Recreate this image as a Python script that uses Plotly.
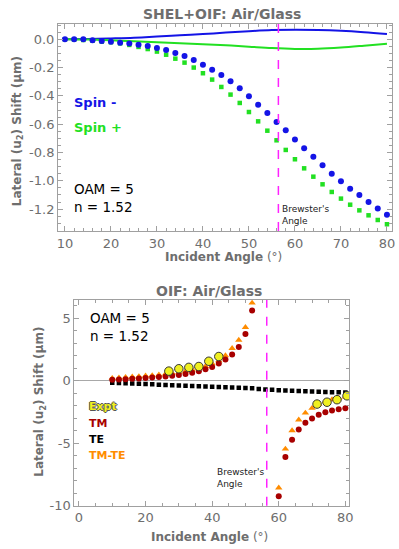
import plotly.graph_objects as go

# --- top panel: SHEL+OIF ---
angle_top = list(range(10, 81, 2))
spin_minus = [0.0, 0.0, 0.0, -0.007, -0.012, -0.017, -0.024, -0.030, -0.038, -0.047,
              -0.061, -0.076, -0.097, -0.118, -0.146, -0.180, -0.215, -0.252, -0.297,
              -0.346, -0.403, -0.462, -0.521, -0.584, -0.643, -0.709, -0.770, -0.830,
              -0.890, -0.950, -1.004, -1.056, -1.100, -1.150, -1.195, -1.240]
spin_plus = [0.0, -0.002, -0.005, -0.010, -0.017, -0.021, -0.029, -0.040, -0.054, -0.069,
             -0.087, -0.109, -0.137, -0.165, -0.200, -0.240, -0.285, -0.337, -0.391,
             -0.450, -0.514, -0.580, -0.646, -0.714, -0.782, -0.848, -0.912, -0.971,
             -1.025, -1.079, -1.126, -1.169, -1.209, -1.244, -1.277, -1.307]
angle_line = [10, 15, 20, 25, 30, 35, 40, 45, 50, 55, 60, 65, 70, 75, 80]
shel_minus = [0.0, 0.002, 0.006, 0.011, 0.019, 0.028, 0.037, 0.047, 0.057, 0.065,
              0.068, 0.066, 0.060, 0.050, 0.037]
shel_plus = [0.0, -0.002, -0.007, -0.014, -0.021, -0.028, -0.035, -0.042, -0.052,
             -0.062, -0.068, -0.067, -0.058, -0.045, -0.031]

# --- bottom panel: OIF ---
angle_tm = list(range(10, 53, 2)) + list(range(60, 81, 2))
tm = [0.08, 0.11, 0.13, 0.16, 0.19, 0.22, 0.26, 0.30, 0.35, 0.40, 0.46, 0.54, 0.65,
      0.77, 0.93, 1.12, 1.39, 1.71, 2.11, 2.72, 3.75, 5.63,
      -9.25, -6.10, -4.72, -3.89, -3.36, -3.01, -2.72, -2.51, -2.37, -2.27, -2.19]
tm_te = [0.21, 0.24, 0.29, 0.32, 0.35, 0.40, 0.43, 0.48, 0.56, 0.61, 0.67, 0.77, 0.91,
         1.01, 1.17, 1.39, 1.63, 2.03, 2.61, 3.27, 4.29, 6.24,
         -8.57, -5.45, -3.98, -3.12, -2.57, -2.19, -1.87, -1.66, -1.50, -1.38, -1.29]
angle_te = list(range(10, 81, 2))
te = [-0.16, -0.18, -0.20, -0.22, -0.24, -0.26, -0.28, -0.31, -0.33, -0.35, -0.37,
      -0.39, -0.41, -0.43, -0.45, -0.47, -0.50, -0.52, -0.54, -0.56, -0.58, -0.60,
      -0.66, -0.69, -0.72, -0.75, -0.77, -0.80, -0.82, -0.84, -0.86, -0.88, -0.90,
      -0.91, -0.92, -0.93]
angle_expt = [27, 30, 33, 36, 39, 42, 71.5, 74.5, 77.5, 80.5]
expt = [0.78, 0.97, 1.08, 1.15, 1.57, 1.95, -1.86, -1.71, -1.51, -1.20]

brewster = 56.4

GRAY = "#6e6e6e"
FRAME = "#a0a0a0"
FONT = "DejaVu Sans"

fig = go.Figure()

fig.add_trace(go.Scatter(x=angle_line, y=shel_minus, mode="lines", line=dict(color="#1414e6", width=2, shape="spline"),
                         xaxis="x", yaxis="y", showlegend=False))
fig.add_trace(go.Scatter(x=angle_line, y=shel_plus, mode="lines", line=dict(color="#22e022", width=2, shape="spline"),
                         xaxis="x", yaxis="y", showlegend=False))
fig.add_trace(go.Scatter(x=angle_top, y=spin_plus, mode="markers",
                         marker=dict(symbol="square", size=4.5, color="#22e022"),
                         xaxis="x", yaxis="y", showlegend=False))
fig.add_trace(go.Scatter(x=angle_top, y=spin_minus, mode="markers",
                         marker=dict(symbol="circle", size=6, color="#1414e6"),
                         xaxis="x", yaxis="y", showlegend=False))

fig.add_trace(go.Scatter(x=angle_te, y=te, mode="markers",
                         marker=dict(symbol="square", size=4.5, color="black"),
                         xaxis="x2", yaxis="y2", showlegend=False))
fig.add_trace(go.Scatter(x=angle_tm, y=tm_te, mode="markers",
                         marker=dict(symbol="triangle-up", size=6.5, color="#ff8c00"),
                         xaxis="x2", yaxis="y2", showlegend=False))
fig.add_trace(go.Scatter(x=angle_tm, y=tm, mode="markers",
                         marker=dict(symbol="circle", size=6, color="#a80000"),
                         xaxis="x2", yaxis="y2", showlegend=False))
fig.add_trace(go.Scatter(x=angle_expt, y=expt, mode="markers",
                         marker=dict(symbol="circle", size=8.5, color="#f0f020",
                                     line=dict(color="#333333", width=1)),
                         xaxis="x2", yaxis="y2", showlegend=False))

axis_common = dict(showline=True, linecolor=FRAME, linewidth=1, mirror="allticks",
                   ticks="inside", ticklen=5, tickcolor=FRAME, showgrid=False, automargin=False,
                   tickfont=dict(family=FONT, size=13, color=GRAY))

top_yticks = [0.0, -0.2, -0.4, -0.6, -0.8, -1.0, -1.2]
fig.update_layout(
    width=399, height=549,
    margin=dict(l=0, r=0, t=0, b=0),
    paper_bgcolor="white", plot_bgcolor="white",
    xaxis=dict(domain=[0.1454, 0.9825], anchor="y", range=[8.5, 81.1],
               tickvals=list(range(10, 81, 10)), zeroline=False,
               minor=dict(ticks="inside", dtick=2, ticklen=3, tickcolor=FRAME), **axis_common),
    yaxis=dict(domain=[0.5792, 0.9563], anchor="x", range=[-1.355, 0.108],
               tickvals=top_yticks, ticktext=[f"{v:.1f}" for v in top_yticks], zeroline=False,
               minor=dict(ticks="inside", dtick=0.05, ticklen=3, tickcolor=FRAME), **axis_common),
    xaxis2=dict(domain=[0.1862, 0.8747], anchor="y2", range=[-1.4, 81.1],
                tickvals=[0, 20, 40, 60, 80], zeroline=False,
                minor=dict(ticks="inside", dtick=5, ticklen=3, tickcolor=FRAME), **axis_common),
    yaxis2=dict(domain=[0.0789, 0.4536], anchor="x2", range=[-10, 6.48],
                tickvals=[5, 0, -5, -10], ticktext=["5", "0", "-5", "-10"],
                zeroline=True, zerolinecolor="#a8a8a8", zerolinewidth=1,
                minor=dict(ticks="inside", dtick=1, ticklen=3, tickcolor=FRAME), **axis_common),
    shapes=[
        dict(type="line", xref="x", yref="paper", x0=brewster, x1=brewster, y0=0.5792, y1=0.9563,
             line=dict(color="#ff22ff", width=1.5, dash="dash")),
        dict(type="line", xref="x2", yref="paper", x0=brewster, x1=brewster, y0=0.0789, y1=0.4536,
             line=dict(color="#ff22ff", width=1.5, dash="dash")),
    ],
)

def note(text, x, y, xref, yref, size, color="black", bold=False, xanchor="center", **kw):
    fig.add_annotation(text=f"<b>{text}</b>" if bold else text, x=x, y=y, xref=xref, yref=yref,
                       xanchor=xanchor, yanchor="middle", showarrow=False,
                       font=dict(family=FONT, size=size, color=color), **kw)

# titles and axis titles
note("SHEL+OIF: Air/Glass", 0.556, 0.9745, "paper", "paper", 14, GRAY, bold=True)
note("OIF: Air/Glass", 0.524, 0.4705, "paper", "paper", 14, GRAY, bold=True)
note("<b>Incident Angle</b> (°)", 0.559, 0.5324, "paper", "paper", 12, GRAY)
note("<b>Incident Angle</b> (°)", 0.526, 0.0224, "paper", "paper", 12, GRAY)
note("Lateral (u<sub>2</sub>) Shift (μm)", 0.045, 0.761, "paper", "paper", 12, GRAY, bold=True, textangle=-90)
note("Lateral (u<sub>2</sub>) Shift (μm)", 0.100, 0.268, "paper", "paper", 12, GRAY, bold=True, textangle=-90)

# top panel labels
note("Spin -", 11.5, -0.45, "x", "y", 13, "#1414e6", bold=True, xanchor="left")
note("Spin +", 11.5, -0.62, "x", "y", 13, "#22e022", bold=True, xanchor="left")
note("OAM = 5<br>n = 1.52", 11.5, -1.12, "x", "y", 13.5, xanchor="left", align="left")
note("Brewster's<br>Angle", 56.8, -1.24, "x", "y", 9, "#222222", xanchor="left", align="left")

# bottom panel labels
note("OAM = 5<br>n = 1.52", 2.7, 4.33, "x2", "y2", 13.5, xanchor="left", align="left")
fig.add_annotation(text="<b>Expt</b>", x=2.5, y=-2.06, xref="x2", yref="y2", showarrow=False,
                   xanchor="left", yanchor="middle",
                   font=dict(family=FONT, size=11, color="#f0f020",
                             shadow="1px 0 0 #555, -1px 0 0 #555, 0 1px 0 #555, 0 -1px 0 #555"))
note("TM", 2.5, -3.38, "x2", "y2", 11, "#a80000", bold=True, xanchor="left")
note("TE", 2.5, -4.66, "x2", "y2", 11, "black", bold=True, xanchor="left")
note("TM-TE", 2.5, -5.98, "x2", "y2", 11, "#ff8c00", bold=True, xanchor="left")
note("Brewster's<br>Angle", 40.8, -7.76, "x2", "y2", 9, "#222222", xanchor="left", align="left")

fig.write_html("out.html", config={"displayModeBar": False},
               post_script="document.body.style.margin = '0';")
